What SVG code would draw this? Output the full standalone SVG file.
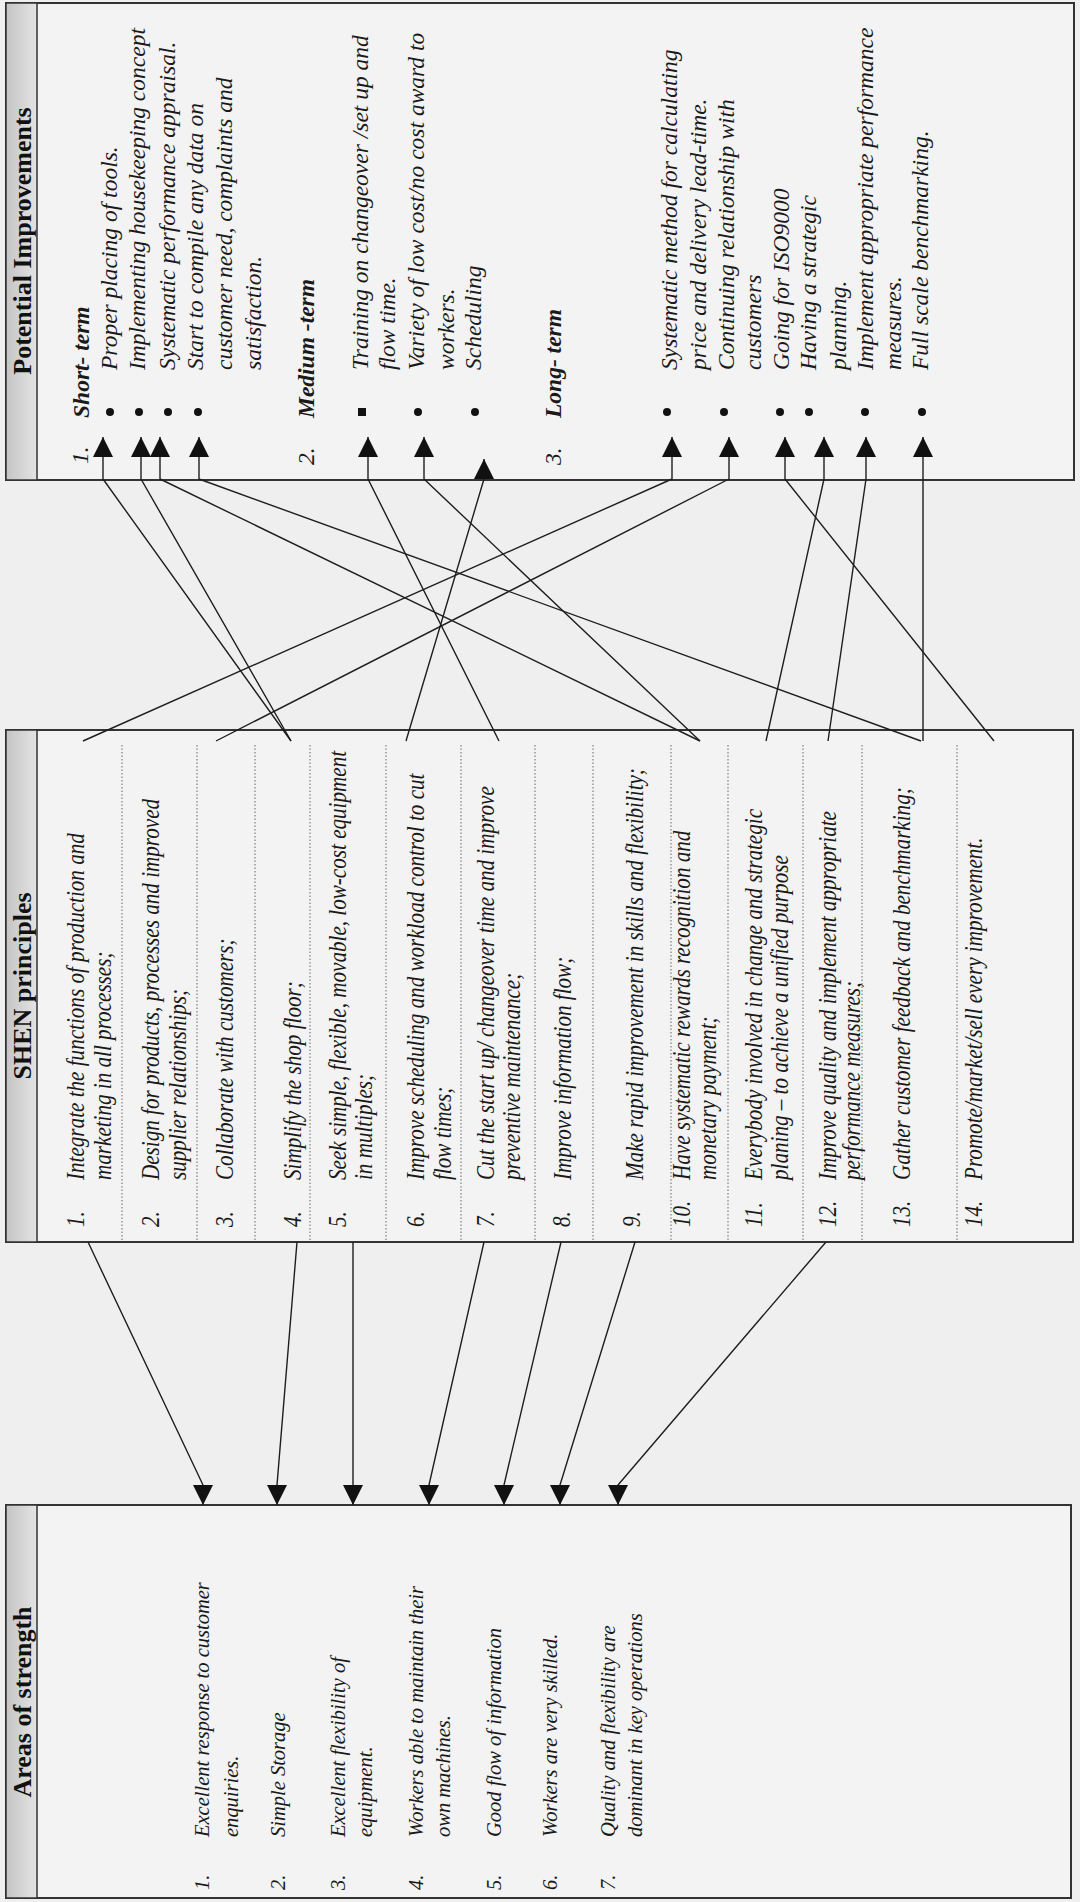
<svg xmlns="http://www.w3.org/2000/svg" width="1080" height="1902" viewBox="0 0 1080 1902">
<defs>
<linearGradient id="hdr" x1="0" y1="0" x2="1" y2="0">
<stop offset="0" stop-color="#c4c4c4"/>
<stop offset="1" stop-color="#e4e4e4"/>
</linearGradient>
<marker id="ah" viewBox="0 0 20 20" refX="20" refY="10" markerWidth="20" markerHeight="20" markerUnits="userSpaceOnUse" orient="auto">
<path d="M0,0 L20,10 L0,20 z" fill="#111"/>
</marker>
<style>
.box{fill:#f3f3f3;stroke:#333;stroke-width:2}
.hdr{fill:url(#hdr);stroke:#333;stroke-width:1.5}
.ttl{font-family:"Liberation Serif","Times New Roman",serif;font-weight:bold;font-size:26px;text-anchor:middle;fill:#111}
.t{font-family:"Liberation Serif","Times New Roman",serif;font-style:italic;fill:#1a1a1a}
.pi{font-size:23.5px}
.ar{font-size:20.5px}
.sh{font-size:25px}
.b{font-weight:bold}
.sep{stroke:#666;stroke-width:1;stroke-dasharray:1.5 2}
.c{fill:none;stroke:#1e1e1e;stroke-width:1.4;stroke-linejoin:round;marker-end:url(#ah)}
.dot{fill:#111}
</style>
</defs>
<rect x="0" y="0" width="1080" height="1902" fill="#efefef"/>

<!-- Potential Improvements -->
<g id="potential-improvements">
<rect class="box" x="6" y="3" width="1068" height="477"/>
<rect class="hdr" x="6" y="3" width="31" height="477"/>
<text class="ttl" transform="translate(31,241) rotate(-90)">Potential Improvements</text>
<g id="pi-short">
<text class="t pi" transform="translate(88,464) rotate(-90)">1.</text>
<text class="t pi b" transform="translate(89,418) rotate(-90)">Short- term</text>
<circle class="dot" cx="110" cy="412" r="4"/>
<circle class="dot" cx="139" cy="412" r="4"/>
<circle class="dot" cx="168" cy="412" r="4"/>
<circle class="dot" cx="198" cy="412" r="4"/>
<text class="t pi" transform="translate(117,370) rotate(-90)">Proper placing of tools.</text>
<text class="t pi" transform="translate(145,370) rotate(-90)">Implementing housekeeping concept</text>
<text class="t pi" transform="translate(175,370) rotate(-90)">Systematic performance appraisal.</text>
<text class="t pi" transform="translate(203,370) rotate(-90)">Start to compile any data on</text>
<text class="t pi" transform="translate(232,370) rotate(-90)">customer need, complaints and</text>
<text class="t pi" transform="translate(261,370) rotate(-90)">satisfaction.</text>
</g>
<g id="pi-medium">
<text class="t pi" transform="translate(314,465) rotate(-90)">2.</text>
<text class="t pi b" transform="translate(314,418) rotate(-90)">Medium -term</text>
<rect class="dot" x="358" y="408" width="8" height="8"/>
<circle class="dot" cx="418" cy="412" r="4"/>
<circle class="dot" cx="475" cy="412" r="4"/>
<text class="t pi" transform="translate(368,370) rotate(-90)">Training on changeover /set up and</text>
<text class="t pi" transform="translate(395,370) rotate(-90)">flow time.</text>
<text class="t pi" transform="translate(424,370) rotate(-90)">Variety of low cost/no cost award to</text>
<text class="t pi" transform="translate(454,370) rotate(-90)">workers.</text>
<text class="t pi" transform="translate(481,370) rotate(-90)">Scheduling</text>
</g>
<g id="pi-long">
<text class="t pi" transform="translate(561,465) rotate(-90)">3.</text>
<text class="t pi b" transform="translate(561,418) rotate(-90)">Long- term</text>
<circle class="dot" cx="667" cy="412" r="4"/>
<circle class="dot" cx="724" cy="412" r="4"/>
<circle class="dot" cx="780" cy="412" r="4"/>
<circle class="dot" cx="809" cy="412" r="4"/>
<circle class="dot" cx="865" cy="412" r="4"/>
<circle class="dot" cx="922" cy="412" r="4"/>
<text class="t pi" transform="translate(677,370) rotate(-90)">Systematic method for calculating</text>
<text class="t pi" transform="translate(706,370) rotate(-90)">price and delivery lead-time.</text>
<text class="t pi" transform="translate(734,370) rotate(-90)">Continuing relationship with</text>
<text class="t pi" transform="translate(761,370) rotate(-90)">customers</text>
<text class="t pi" transform="translate(789,370) rotate(-90)">Going for ISO9000</text>
<text class="t pi" transform="translate(816,370) rotate(-90)">Having a strategic</text>
<text class="t pi" transform="translate(846,370) rotate(-90)">planning.</text>
<text class="t pi" transform="translate(873,370) rotate(-90)">Implement appropriate performance</text>
<text class="t pi" transform="translate(901,370) rotate(-90)">measures.</text>
<text class="t pi" transform="translate(928,370) rotate(-90)">Full scale benchmarking.</text>
</g>
</g>

<!-- SHEN principles -->
<g id="shen-principles">
<rect class="box" x="6" y="730" width="1067" height="512"/>
<rect class="hdr" x="6" y="730" width="31" height="512"/>
<text class="ttl" transform="translate(31,986) rotate(-90)">SHEN principles</text>
<g id="shen-separators">
<line class="sep" x1="122" y1="745" x2="122" y2="1242"/>
<line class="sep" x1="197" y1="745" x2="197" y2="1242"/>
<line class="sep" x1="255" y1="745" x2="255" y2="1242"/>
<line class="sep" x1="310" y1="745" x2="310" y2="1242"/>
<line class="sep" x1="386" y1="745" x2="386" y2="1242"/>
<line class="sep" x1="461" y1="745" x2="461" y2="1242"/>
<line class="sep" x1="535" y1="745" x2="535" y2="1242"/>
<line class="sep" x1="593" y1="745" x2="593" y2="1242"/>
<line class="sep" x1="671" y1="745" x2="671" y2="1242"/>
<line class="sep" x1="728" y1="745" x2="728" y2="1242"/>
<line class="sep" x1="803" y1="745" x2="803" y2="1242"/>
<line class="sep" x1="862" y1="745" x2="862" y2="1242"/>
<line class="sep" x1="957" y1="745" x2="957" y2="1242"/>
</g>
<g id="shen-1">
<text class="t sh" transform="translate(84,1227) rotate(-90) scale(0.845,1)">1.</text>
<text class="t sh" transform="translate(84,1180) rotate(-90) scale(0.845,1)">Integrate the functions of production and</text>
<text class="t sh" transform="translate(111,1180) rotate(-90) scale(0.845,1)">marketing in all processes;</text>
</g>
<g id="shen-2">
<text class="t sh" transform="translate(159,1227) rotate(-90) scale(0.845,1)">2.</text>
<text class="t sh" transform="translate(159,1180) rotate(-90) scale(0.845,1)">Design for products, processes and improved</text>
<text class="t sh" transform="translate(186,1180) rotate(-90) scale(0.845,1)">supplier relationships;</text>
</g>
<g id="shen-3">
<text class="t sh" transform="translate(233,1227) rotate(-90) scale(0.845,1)">3.</text>
<text class="t sh" transform="translate(233,1180) rotate(-90) scale(0.845,1)">Collaborate with customers;</text>
</g>
<g id="shen-4">
<text class="t sh" transform="translate(301,1227) rotate(-90) scale(0.845,1)">4.</text>
<text class="t sh" transform="translate(301,1180) rotate(-90) scale(0.845,1)">Simplify the shop floor;</text>
</g>
<g id="shen-5">
<text class="t sh" transform="translate(346,1227) rotate(-90) scale(0.845,1)">5.</text>
<text class="t sh" transform="translate(346,1180) rotate(-90) scale(0.845,1)">Seek simple, flexible, movable, low-cost equipment</text>
<text class="t sh" transform="translate(372,1180) rotate(-90) scale(0.845,1)">in multiples;</text>
</g>
<g id="shen-6">
<text class="t sh" transform="translate(424,1227) rotate(-90) scale(0.845,1)">6.</text>
<text class="t sh" transform="translate(424,1180) rotate(-90) scale(0.845,1)">Improve scheduling and workload control  to cut</text>
<text class="t sh" transform="translate(451,1180) rotate(-90) scale(0.845,1)">flow times;</text>
</g>
<g id="shen-7">
<text class="t sh" transform="translate(494,1227) rotate(-90) scale(0.845,1)">7.</text>
<text class="t sh" transform="translate(494,1180) rotate(-90) scale(0.845,1)">Cut the start up/ changeover time and improve</text>
<text class="t sh" transform="translate(520,1180) rotate(-90) scale(0.845,1)">preventive maintenance;</text>
</g>
<g id="shen-8">
<text class="t sh" transform="translate(570,1227) rotate(-90) scale(0.845,1)">8.</text>
<text class="t sh" transform="translate(571,1180) rotate(-90) scale(0.845,1)">Improve information flow;</text>
</g>
<g id="shen-9">
<text class="t sh" transform="translate(640,1227) rotate(-90) scale(0.845,1)">9.</text>
<text class="t sh" transform="translate(643,1180) rotate(-90) scale(0.845,1)">Make rapid improvement in skills and flexibility;</text>
</g>
<g id="shen-10">
<text class="t sh" transform="translate(690,1227) rotate(-90) scale(0.845,1)">10.</text>
<text class="t sh" transform="translate(690,1180) rotate(-90) scale(0.845,1)">Have systematic rewards recognition and</text>
<text class="t sh" transform="translate(716,1180) rotate(-90) scale(0.845,1)">monetary  payment;</text>
</g>
<g id="shen-11">
<text class="t sh" transform="translate(762,1227) rotate(-90) scale(0.845,1)">11.</text>
<text class="t sh" transform="translate(762,1180) rotate(-90) scale(0.845,1)">Everybody involved in change and strategic</text>
<text class="t sh" transform="translate(788,1180) rotate(-90) scale(0.845,1)">planing – to achieve a unified purpose</text>
</g>
<g id="shen-12">
<text class="t sh" transform="translate(836,1227) rotate(-90) scale(0.845,1)">12.</text>
<text class="t sh" transform="translate(836,1180) rotate(-90) scale(0.845,1)">Improve quality and implement appropriate</text>
<text class="t sh" transform="translate(860,1180) rotate(-90) scale(0.845,1)">performance measures;</text>
</g>
<g id="shen-13">
<text class="t sh" transform="translate(910,1227) rotate(-90) scale(0.845,1)">13.</text>
<text class="t sh" transform="translate(910,1180) rotate(-90) scale(0.845,1)">Gather customer feedback and benchmarking;</text>
</g>
<g id="shen-14">
<text class="t sh" transform="translate(982,1227) rotate(-90) scale(0.845,1)">14.</text>
<text class="t sh" transform="translate(982,1180) rotate(-90) scale(0.845,1)">Promote/market/sell every improvement.</text>
</g>
</g>

<!-- Areas of strength -->
<g id="areas-of-strength">
<rect class="box" x="6" y="1505" width="1065" height="393"/>
<rect class="hdr" x="6" y="1505" width="31" height="393"/>
<text class="ttl" transform="translate(31,1702) rotate(-90)">Areas of strength</text>
<g id="area-1">
<text class="t ar" transform="translate(209,1890) rotate(-90)">1.</text>
<text class="t ar" transform="translate(209,1837) rotate(-90)">Excellent response to customer</text>
<text class="t ar" transform="translate(238,1837) rotate(-90)">enquiries.</text>
</g>
<g id="area-2">
<text class="t ar" transform="translate(285,1890) rotate(-90)">2.</text>
<text class="t ar" transform="translate(285,1837) rotate(-90)">Simple Storage</text>
</g>
<g id="area-3">
<text class="t ar" transform="translate(345,1890) rotate(-90)">3.</text>
<text class="t ar" transform="translate(345,1837) rotate(-90)">Excellent flexibility of</text>
<text class="t ar" transform="translate(372,1837) rotate(-90)">equipment.</text>
</g>
<g id="area-4">
<text class="t ar" transform="translate(423,1890) rotate(-90)">4.</text>
<text class="t ar" transform="translate(423,1837) rotate(-90)">Workers able to maintain their</text>
<text class="t ar" transform="translate(450,1837) rotate(-90)">own machines.</text>
</g>
<g id="area-5">
<text class="t ar" transform="translate(501,1890) rotate(-90)">5.</text>
<text class="t ar" transform="translate(501,1837) rotate(-90)">Good flow of information</text>
</g>
<g id="area-6">
<text class="t ar" transform="translate(557,1890) rotate(-90)">6.</text>
<text class="t ar" transform="translate(557,1837) rotate(-90)">Workers are very skilled.</text>
</g>
<g id="area-7">
<text class="t ar" transform="translate(615,1890) rotate(-90)">7.</text>
<text class="t ar" transform="translate(615,1837) rotate(-90)">Quality and flexibility are</text>
<text class="t ar" transform="translate(642,1837) rotate(-90)">dominant in key operations</text>
</g>
</g>

<!-- Connectors -->
<g id="connectors">
<path class="c" d="M291,741 L103,479 L103,437"/>
<path class="c" d="M291,741 L141,479 L141,437"/>
<path class="c" d="M700,741 L160,479 L160,437"/>
<path class="c" d="M921,741 L199,479 L199,437"/>
<path class="c" d="M499,741 L368,479 L368,437"/>
<path class="c" d="M700,741 L424,479 L424,437"/>
<path class="c" d="M406,741 L484,479 L484,459"/>
<path class="c" d="M83,741 L672,479 L672,437"/>
<path class="c" d="M216,741 L729,479 L729,437"/>
<path class="c" d="M994,741 L785,479 L785,437"/>
<path class="c" d="M766,741 L824,479 L824,437"/>
<path class="c" d="M828,741 L866,479 L866,437"/>
<path class="c" d="M923,741 L923,437"/>
<path class="c" d="M88,1242 L203,1485 L203,1505"/>
<path class="c" d="M297,1242 L277,1485 L277,1505"/>
<path class="c" d="M353,1242 L353,1505"/>
<path class="c" d="M484,1242 L429,1485 L429,1505"/>
<path class="c" d="M561,1242 L504,1485 L504,1505"/>
<path class="c" d="M635,1242 L560,1485 L560,1505"/>
<path class="c" d="M826,1242 L618,1485 L618,1505"/>
</g>
</svg>
